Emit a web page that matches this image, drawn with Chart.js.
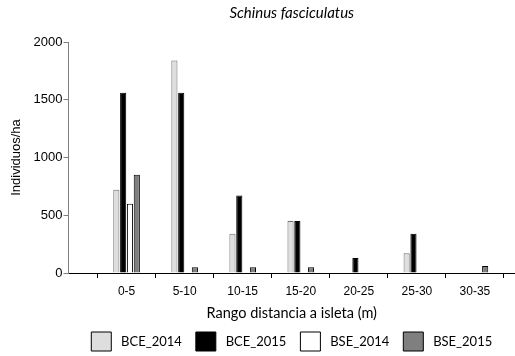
<!DOCTYPE html>
<html>
<head>
<meta charset="utf-8">
<script src="https://cdn.jsdelivr.net/npm/chart.js@4/dist/chart.umd.min.js"></script>
<style>
  html, body { margin: 0; padding: 0; background: #ffffff; }
  #wrap { width: 515px; height: 356px; }
</style>
</head>
<body>
<div id="wrap"><canvas id="c" width="515" height="356"></canvas></div>
<script>
// Distance classes from the islet (m)
const categories = ['0-5', '5-10', '10-15', '15-20', '20-25', '25-30', '30-35'];

// Density (individuals per hectare) by plot type and year
const bce2014 = [720, 1840, 340, 450, 0, 170, 0];
const bce2015 = [1560, 1560, 670, 450, 130, 340, 0];
const bse2014 = [600, 0, 0, 0, 0, 0, 0];
const bse2015 = [850, 50, 50, 50, 0, 0, 60];

const yTicks = [0, 500, 1000, 1500, 2000];

// category i sits at x = i + 1 on a linear axis whose origin is the y axis
const toPoints = arr => arr.map((v, i) => ({ x: i + 1, y: v }));

const sansA = "'Liberation Sans', Arial, sans-serif";
const sansC = "Lato, 'Open Sans', sans-serif";

const series = [
  { label: 'BCE_2014', data: bce2014, bg: '#dedede', border: '#6e6e6e' },
  { label: 'BCE_2015', data: bce2015, bg: '#000000', border: '#000000' },
  { label: 'BSE_2014', data: bse2014, bg: '#ffffff', border: '#000000' },
  { label: 'BSE_2015', data: bse2015, bg: '#7f7f7f', border: '#000000' }
];

new Chart(document.getElementById('c'), {
  type: 'bar',
  data: {
    datasets: series.map(s => ({
      label: s.label,
      data: toPoints(s.data),
      backgroundColor: s.bg,
      borderColor: s.border,
      borderWidth: 1,
      categoryPercentage: 0.47,
      barPercentage: 0.9
    }))
  },
  options: {
    responsive: false,
    animation: false,
    layout: { padding: { left: 4, right: 0, top: 0, bottom: -5 } },
    plugins: {
      title: {
        display: true,
        text: 'Schinus fasciculatus',
        fullSize: false,
        color: '#000',
        font: { family: sansC, size: 15, style: 'italic', weight: 'normal' },
        padding: { top: 4, bottom: 20 }
      },
      legend: {
        position: 'bottom',
        fullSize: false,
        labels: {
          color: '#000',
          boxWidth: 20,
          boxHeight: 19,
          padding: 14,
          font: { family: sansC, size: 13 },
          generateLabels: chart => chart.data.datasets.map((d, i) => ({
            text: ' ' + d.label,
            fillStyle: d.backgroundColor,
            strokeStyle: '#000',
            lineWidth: 1,
            datasetIndex: i,
            hidden: false
          }))
        }
      },
      tooltip: { enabled: false }
    },
    scales: {
      x: {
        type: 'linear',
        min: 0,
        max: 7.69,
        offset: false,
        border: { color: '#000', width: 1 },
        grid: { drawOnChartArea: false, drawTicks: true, tickLength: 5, color: '#000' },
        ticks: {
          stepSize: 1,
          autoSkip: false,
          maxRotation: 0,
          color: '#000',
          font: { family: sansA, size: 12 },
          padding: 6,
          callback: v => (Number.isInteger(v) && v >= 1 && v <= categories.length) ? categories[v - 1] : ''
        },
        afterBuildTicks: axis => {
          axis.ticks = [];
          for (let i = 0; i <= categories.length; i++) axis.ticks.push({ value: i });
        },
        title: {
          display: true,
          text: 'Rango distancia a isleta (m)',
          color: '#000',
          font: { family: sansC, size: 14.5, lineHeight: 0.8 },
          padding: { top: 3, bottom: -1 }
        }
      },
      y: {
        min: 0,
        max: 2000,
        border: { color: '#808080', width: 1 },
        grid: { drawOnChartArea: false, drawTicks: true, tickLength: 5, color: '#808080' },
        afterBuildTicks: axis => { axis.ticks = yTicks.map(v => ({ value: v })); },
        ticks: {
          color: '#000',
          font: { family: sansA, size: 13 },
          padding: 1,
          callback: v => String(v)
        },
        title: {
          display: true,
          text: 'Individuos/ha',
          color: '#000',
          font: { family: sansA, size: 13 },
          padding: { top: 5, bottom: 8 }
        }
      }
    }
  }
});
</script>
</body>
</html>
